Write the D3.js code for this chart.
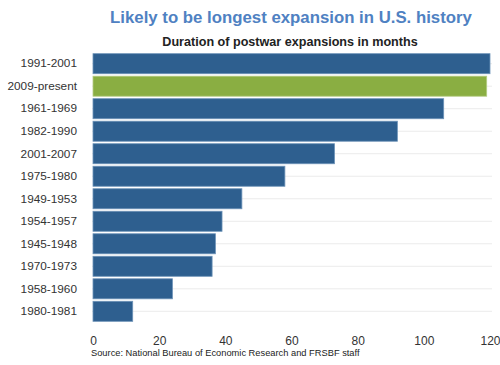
<!DOCTYPE html>
<html><head><meta charset="utf-8">
<script src="https://cdn.jsdelivr.net/npm/d3@7"></script>
<style>body{margin:0;background:#fff;}svg{display:block;font-family:"Liberation Sans",Arial,sans-serif;}</style>
</head><body>
<svg id="c" width="500" height="365"></svg>
<script>
const categories = ["1991-2001","2009-present","1961-1969","1982-1990","2001-2007","1975-1980","1949-1953","1954-1957","1945-1948","1970-1973","1958-1960","1980-1981"];
const months = [120,119,106,92,73,58,45,39,37,36,24,12];
const highlight = ["2009-present"];
const xTicks = [0,20,40,60,80,100,120];

const svg = d3.select("#c");
const x = d3.scaleLinear().domain([0,120]).range([93,490]);
const y = d3.scaleBand().domain(categories).range([53,322]).paddingInner(0.11).paddingOuter(0.03);

svg.append("text").attr("x",291).attr("y",23).attr("text-anchor","middle")
  .attr("font-size",16.8).attr("font-weight","bold").attr("fill","#4f81c2")
  .text("Likely to be longest expansion in U.S. history");
svg.append("text").attr("x",290).attr("y",46).attr("text-anchor","middle")
  .attr("font-size",12.6).attr("font-weight","bold").attr("fill","#222")
  .text("Duration of postwar expansions in months");

// gridlines at band centres
svg.append("g").selectAll("line").data(categories).join("line")
  .attr("x1",92).attr("x2",492)
  .attr("y1",d=>y(d)+y.bandwidth()/2).attr("y2",d=>y(d)+y.bandwidth()/2)
  .attr("stroke","#ebebeb").attr("stroke-width",1);

svg.append("g").selectAll("rect").data(categories).join("rect")
  .attr("x",x(0)).attr("y",d=>y(d))
  .attr("width",(d,i)=>x(months[i])-x(0)).attr("height",y.bandwidth())
  .attr("fill",d=>highlight.includes(d)?"#8aae42":"#2e5f8f")
  .attr("stroke",d=>highlight.includes(d)?"#b5cc85":"#6d93b8").attr("stroke-width",0.8);

const yAxis = svg.append("g").attr("transform","translate(92,0)")
  .call(d3.axisLeft(y).tickSize(0).tickPadding(15));
yAxis.select(".domain").remove();
yAxis.selectAll("text").attr("font-size",11.8).attr("fill","#333").attr("font-family","'Liberation Sans',Arial,sans-serif");

const xAxis = svg.append("g").attr("transform","translate(0,332)")
  .call(d3.axisBottom(x).tickValues(xTicks).tickSize(0).tickPadding(4));
xAxis.select(".domain").remove();
xAxis.selectAll("text").attr("font-size",12).attr("fill","#333").attr("font-family","'Liberation Sans',Arial,sans-serif");

svg.append("text").attr("x",91).attr("y",356).attr("font-size",9.3).attr("fill","#222")
  .text("Source: National Bureau of Economic Research and FRSBF staff");
</script>
</body></html>
